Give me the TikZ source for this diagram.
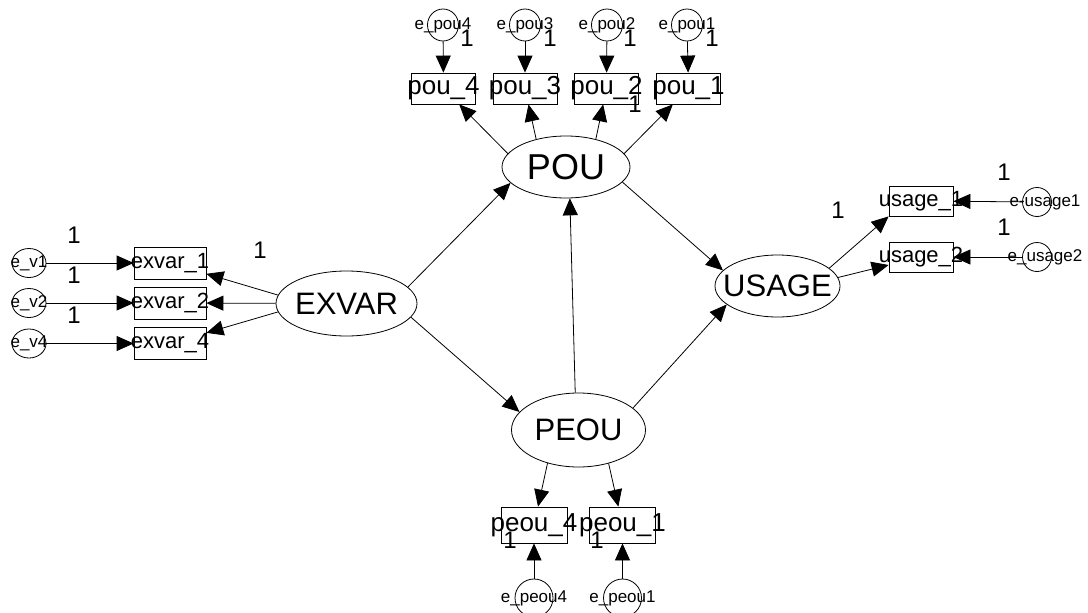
\documentclass[tikz,border=0pt]{standalone}
\usepackage{fontspec}
\setmainfont{Liberation Sans}
\usetikzlibrary{shapes.geometric, arrows.meta}

\begin{document}
\begin{tikzpicture}[
    x=1pt, y=-1pt,
    line width=0.8pt,
    latent/.style={draw, ellipse, inner sep=0pt, font=\fontsize{31}{31}\selectfont},
    observed/.style={draw, rectangle, inner sep=0pt, minimum width=64pt, minimum height=31pt, font=\fontsize{26}{26}\selectfont},
    errvar/.style={draw, ellipse, inner sep=0pt, minimum width=31pt, minimum height=32pt, font=\fontsize{17}{17}\selectfont},
    weight/.style={inner sep=0pt, font=\fontsize{24}{24}\selectfont},
    reg/.style={-{Triangle[length=17pt, width=15pt]}},
]
\path[use as bounding box, fill=white] (0,0) rectangle (1088,613);

% Latente Variablen
\node[latent, minimum width=128pt, minimum height=62pt, font=\fontsize{36}{36}\selectfont] (pou) at (566,167) {\makebox[0pt]{POU}};
\node[latent, minimum width=141pt, minimum height=65pt] (exvar) at (346.5,303.5) {\makebox[0pt]{EXVAR}};
\node[latent, minimum width=134pt, minimum height=74pt] (peou) at (578.5,430) {\makebox[0pt]{PEOU}};
\node[latent, minimum width=125pt, minimum height=62pt] (usage) at (777.5,286) {\makebox[0pt]{USAGE}};

% Indikatoren
\node[observed] (pou4) at (443.5,88.5) {\makebox[0pt]{pou\_4}};
\node[observed] (pou3) at (525,88.5) {\makebox[0pt]{pou\_3}};
\node[observed] (pou2) at (606.5,88.5) {\makebox[0pt]{pou\_2}};
\node[observed] (pou1) at (688.5,88.5) {\makebox[0pt]{pou\_1}};
\node[observed, minimum width=72pt, minimum height=32pt, font=\fontsize{22}{22}\selectfont] (exvar1) at (170,263) {\makebox[0pt]{exvar\_1}};
\node[observed, minimum width=72pt, minimum height=32pt, font=\fontsize{22}{22}\selectfont] (exvar2) at (170,303) {\makebox[0pt]{exvar\_2}};
\node[observed, minimum width=72pt, minimum height=32pt, font=\fontsize{22}{22}\selectfont] (exvar4) at (170,343.5) {\makebox[0pt]{exvar\_4}};
\node[observed, minimum height=30pt, font=\fontsize{22}{22}\selectfont] (usage1) at (921,201) {\makebox[0pt]{usage\_1}};
\node[observed, minimum height=30pt, font=\fontsize{22}{22}\selectfont] (usage2) at (921,257) {\makebox[0pt]{usage\_2}};
\node[observed, minimum width=66pt, minimum height=36pt] (peou4) at (534,525) {\makebox[0pt]{peou\_4}};
\node[observed, minimum width=66pt, minimum height=36pt] (peou1) at (622.5,525) {\makebox[0pt]{peou\_1}};

% Fehlerterme
\node[errvar] (epou4) at (443,25) {\makebox[0pt]{e\_pou4}};
\node[errvar] (epou3) at (525,25) {\makebox[0pt]{e\_pou3}};
\node[errvar] (epou2) at (607,25) {\makebox[0pt]{e\_pou2}};
\node[errvar] (epou1) at (687,25) {\makebox[0pt]{e\_pou1}};
\node[errvar, minimum width=34pt, minimum height=29pt] (ev1) at (29,263) {\makebox[0pt]{e\_v1}};
\node[errvar, minimum width=34pt, minimum height=29pt] (ev2) at (29,303) {\makebox[0pt]{e\_v2}};
\node[errvar, minimum width=34pt, minimum height=29pt] (ev4) at (29,343.5) {\makebox[0pt]{e\_v4}};
\node[errvar, minimum width=29pt, minimum height=29pt] (eusage1) at (1037,202) {\makebox[0pt]{\hspace{16pt}e-usage1}};
\node[errvar, minimum width=29pt, minimum height=29pt] (eusage2) at (1037,257) {\makebox[0pt]{\hspace{16pt}e\_usage2}};
\node[errvar, minimum width=38pt, minimum height=38pt] (epeou4) at (534,598) {\makebox[0pt]{e\_peou4}};
\node[errvar, minimum width=38pt, minimum height=38pt] (epeou1) at (622.5,598) {\makebox[0pt]{e\_peou1}};

% Gewichte
\node[weight] (w-epou4) at (467,38) {1};
\node[weight] (w-epou3) at (550,38) {1};
\node[weight] (w-epou2) at (630,38) {1};
\node[weight] (w-epou1) at (712,38) {1};
\node[weight] (w-pou2) at (635,104) {1};
\node[weight] (w-ev1) at (74,235) {1};
\node[weight] (w-ev2) at (74,275) {1};
\node[weight] (w-ev4) at (74,315) {1};
\node[weight] (w-exvar1) at (260,250) {1};
\node[weight] (w-eusage1) at (1004,172) {1};
\node[weight] (w-eusage2) at (1004,227) {1};
\node[weight] (w-usage1) at (838,210) {1};
\node[weight] (w-epeou4) at (510,540) {1};
\node[weight] (w-epeou1) at (597,540) {1};

% Strukturmodell
\draw[reg] (exvar.15) -- (pou.196);
\draw[reg] (exvar.-12) -- (peou.163);
\draw[reg] (peou.95) -- (pou.277);
\draw[reg] (pou.-15) -- (usage.164);
\draw[reg] (peou.22) -- (usage.200);

% Messmodelle
\draw[reg] (pou.167) -- (pou4);
\draw[reg] (pou.137) -- (pou3);
\draw[reg] (pou.43) -- (pou2);
\draw[reg] (pou.13) -- (pou1);
\draw[reg] (exvar.173) -- (exvar1);
\draw[reg] (exvar) -- (exvar2);
\draw[reg] (exvar.187) -- (exvar4);
\draw[reg] (usage.19) -- (usage1.south west);
\draw[reg] (usage.8) -- (usage2);
\draw[reg] (peou.227) -- (peou4);
\draw[reg] (peou.312) -- (peou1);

% Fehler
\draw[reg] (epou4) -- (pou4);
\draw[reg] (epou3) -- (pou3);
\draw[reg] (epou2) -- (pou2);
\draw[reg] (epou1) -- (pou1);
\draw[reg] (ev1) -- (exvar1);
\draw[reg] (ev2) -- (exvar2);
\draw[reg] (ev4) -- (exvar4);
\draw[reg] (eusage1) -- (usage1);
\draw[reg] (eusage2) -- (usage2);
\draw[reg] (epeou4) -- (peou4);
\draw[reg] (epeou1) -- (peou1);

\end{tikzpicture}
\end{document}
